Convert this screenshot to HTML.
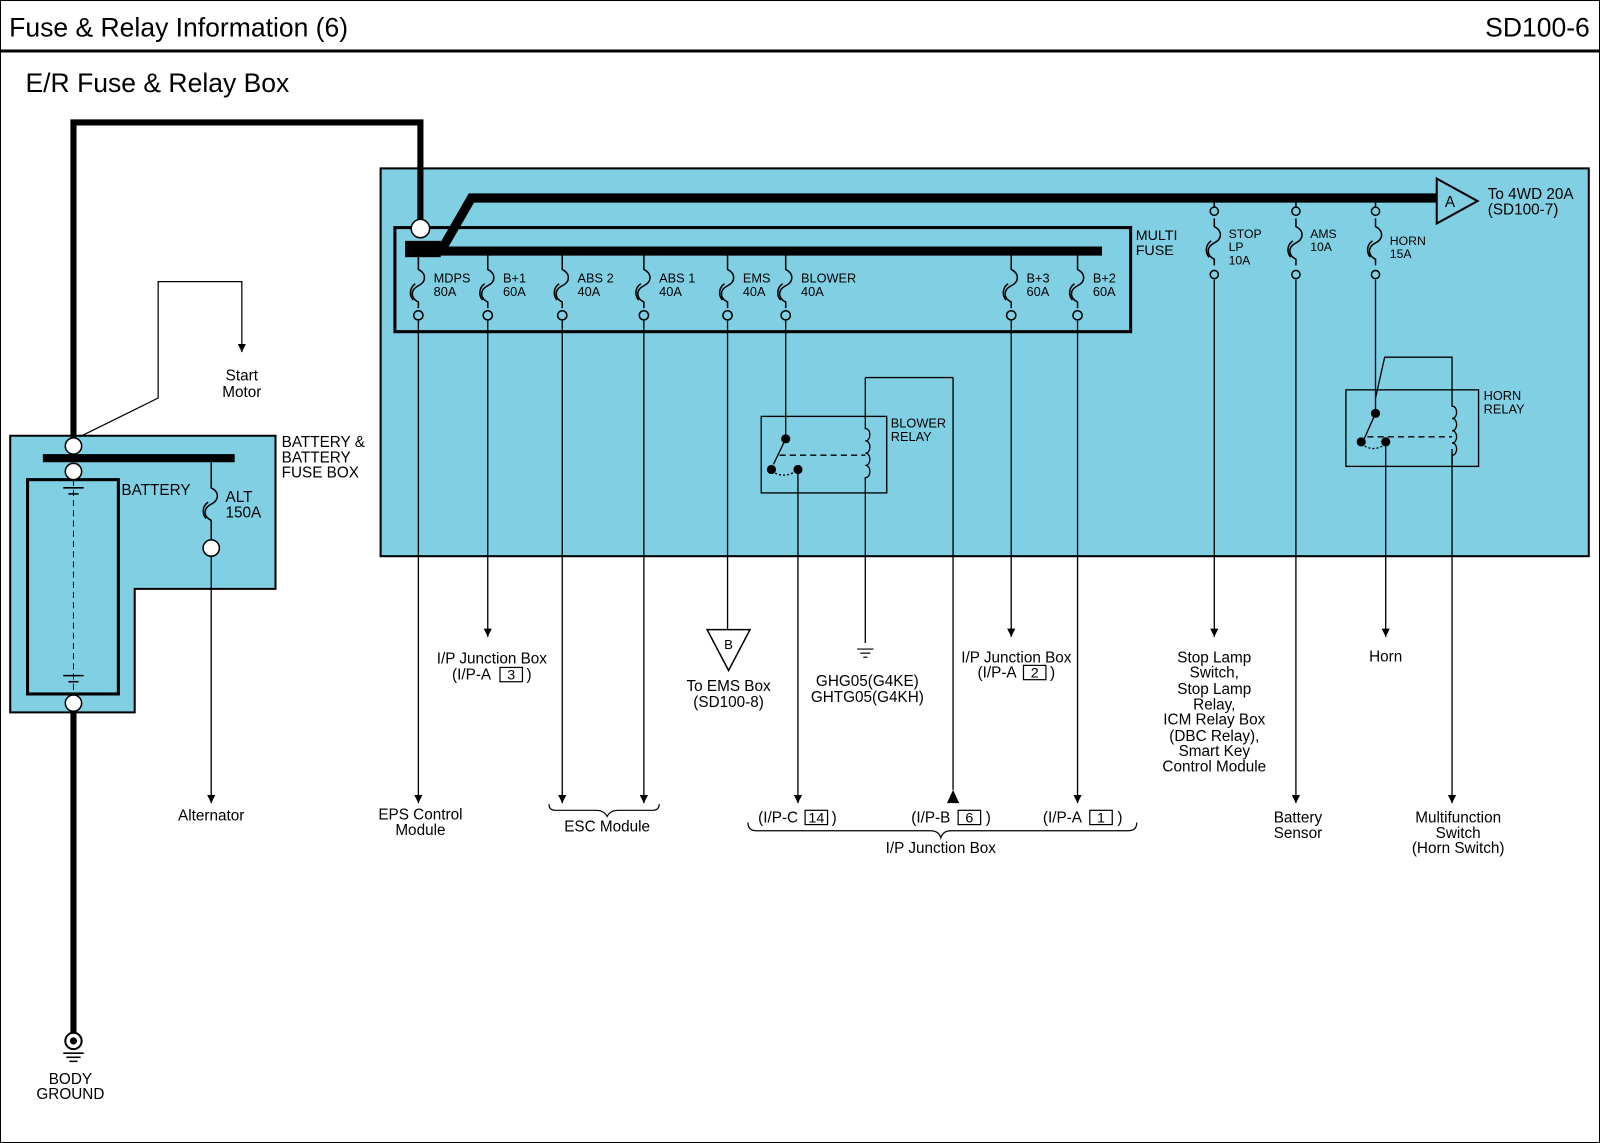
<!DOCTYPE html>
<html><head><meta charset="utf-8"><style>
html,body{margin:0;padding:0;background:#fff}
svg{display:block}
text{font-family:"Liberation Sans",Arial,sans-serif;fill:#000}
</style></head><body>
<svg width="1600" height="1143" viewBox="0 0 1568 1120" preserveAspectRatio="none" xmlns="http://www.w3.org/2000/svg">
<defs>
<marker id="ar" viewBox="0 0 10 10" refX="10" refY="5" markerWidth="8" markerHeight="8" orient="auto" markerUnits="userSpaceOnUse"><path d="M0,0 L10,5 L0,10 z" fill="#000"/></marker>
<g id="fuse"><path d="M0,0 v8 c8,4 8,12 0,16 c-8,4 -8,12 0,16 v6" fill="none" stroke="#000" stroke-width="1.5"/><path d="M-3,22 c-6,4 -6,12 -2,16" fill="none" stroke="#000" stroke-width="1.5"/></g>
</defs>
<rect x="0.5" y="0.5" width="1567" height="1119" fill="#fff" stroke="#000" stroke-width="1"/>
<line x1="0" y1="50" x2="1568" y2="50" stroke="#000" stroke-width="3"/>
<text x="9" y="36" font-size="26">Fuse &amp; Relay Information (6)</text>
<text x="1558" y="36" font-size="26" text-anchor="end">SD100-6</text>
<text x="25" y="90" font-size="26">E/R Fuse &amp; Relay Box</text>

<!-- main box -->
<rect x="373" y="165" width="1184" height="380" fill="#80cfe2" stroke="#000" stroke-width="2"/>
<rect x="387" y="223" width="721" height="102" fill="none" stroke="#000" stroke-width="3"/>
<text x="1113" y="235" font-size="14">MULTI</text>
<text x="1113" y="250" font-size="14">FUSE</text>

<!-- battery box -->
<path d="M10,427 H270 V577 H132 V698 H10 Z" fill="#80cfe2" stroke="#000" stroke-width="2"/>
<rect x="27" y="470" width="89" height="210" fill="none" stroke="#000" stroke-width="3"/>
<line x1="72" y1="470" x2="72" y2="680" stroke="#000" stroke-width="1" stroke-dasharray="6,4"/>
<line x1="62" y1="478" x2="82" y2="478" stroke="#000" stroke-width="1.5"/><line x1="67" y1="484" x2="77" y2="484" stroke="#000" stroke-width="1.5"/>
<line x1="62" y1="662" x2="82" y2="662" stroke="#000" stroke-width="1.5"/><line x1="67" y1="668" x2="77" y2="668" stroke="#000" stroke-width="1.5"/>
<text x="119" y="485" font-size="15">BATTERY</text>
<text x="276" y="438" font-size="15">BATTERY &amp;</text>
<text x="276" y="453" font-size="15">BATTERY</text>
<text x="276" y="468" font-size="15">FUSE BOX</text>
<line x1="42" y1="449" x2="230" y2="449" stroke="#000" stroke-width="8"/>

<!-- thick wire -->
<path d="M72,437 V120 H412 V224" fill="none" stroke="#000" stroke-width="6"/>
<line x1="72" y1="689" x2="72" y2="1015" stroke="#000" stroke-width="6"/>
<circle cx="72" cy="437" r="8" fill="#fff" stroke="#000" stroke-width="1.5"/>
<circle cx="72" cy="462" r="8" fill="#fff" stroke="#000" stroke-width="1.5"/>
<circle cx="72" cy="689" r="8" fill="#fff" stroke="#000" stroke-width="1.5"/>
<!-- ground -->
<circle cx="72" cy="1020" r="8" fill="#fff" stroke="#000" stroke-width="2"/><circle cx="72" cy="1020" r="3.5" fill="#000"/>
<line x1="62" y1="1032" x2="82" y2="1032" stroke="#000" stroke-width="1.5"/><line x1="65" y1="1036" x2="79" y2="1036" stroke="#000" stroke-width="1.5"/><line x1="68" y1="1040" x2="76" y2="1040" stroke="#000" stroke-width="1.5"/>
<text x="69" y="1062" font-size="15" text-anchor="middle">BODY</text>
<text x="69" y="1077" font-size="15" text-anchor="middle">GROUND</text>

<!-- start motor -->
<path d="M78,428 L155,390 V276 H237 V345" fill="none" stroke="#000" stroke-width="1.2" marker-end="url(#ar)"/>
<text x="237" y="373" font-size="15" text-anchor="middle">Start</text>
<text x="237" y="389" font-size="15" text-anchor="middle">Motor</text>

<!-- ALT -->
<line x1="207" y1="453" x2="207" y2="470" stroke="#000" stroke-width="1.5"/>
<use href="#fuse" x="207" y="470"/>
<line x1="207" y1="516" x2="207" y2="529" stroke="#000" stroke-width="1.5"/>
<circle cx="207" cy="537" r="8" fill="#fff" stroke="#000" stroke-width="1.5"/>
<line x1="207" y1="545" x2="207" y2="787" stroke="#000" stroke-width="1.3" marker-end="url(#ar)"/>
<text x="221" y="492" font-size="15">ALT</text>
<text x="221" y="507" font-size="15">150A</text>
<text x="207" y="804" font-size="15" text-anchor="middle">Alternator</text>

<!-- bus bars -->
<rect x="397" y="236" width="35" height="16" fill="#000"/>
<line x1="430" y1="246" x2="1080" y2="246" stroke="#000" stroke-width="9"/>
<path d="M432,246 L462,194 H1410" fill="none" stroke="#000" stroke-width="9"/>
<polygon points="1408,175 1448,197 1408,219" fill="#80cfe2" stroke="#000" stroke-width="2"/>
<text x="1421" y="203" font-size="15" text-anchor="middle">A</text>
<text x="1458" y="195" font-size="15">To 4WD 20A</text>
<text x="1458" y="210" font-size="15">(SD100-7)</text>
<circle cx="412" cy="224" r="9" fill="#fff" stroke="#000" stroke-width="1.5"/>

<!-- multi fuses -->
<g stroke="#000" stroke-width="1.5" fill="none">
<line x1="410" y1="250" x2="410" y2="256"/><line x1="478" y1="250" x2="478" y2="256"/><line x1="551" y1="250" x2="551" y2="256"/><line x1="631" y1="250" x2="631" y2="256"/><line x1="713" y1="250" x2="713" y2="256"/><line x1="770" y1="250" x2="770" y2="256"/><line x1="991" y1="250" x2="991" y2="256"/><line x1="1056" y1="250" x2="1056" y2="256"/>
</g>
<use href="#fuse" x="410" y="256"/><use href="#fuse" x="478" y="256"/><use href="#fuse" x="551" y="256"/><use href="#fuse" x="631" y="256"/><use href="#fuse" x="713" y="256"/><use href="#fuse" x="770" y="256"/><use href="#fuse" x="991" y="256"/><use href="#fuse" x="1056" y="256"/>
<g fill="#80cfe2" stroke="#000" stroke-width="1.5">
<circle cx="410" cy="309" r="4.5"/><circle cx="478" cy="309" r="4.5"/><circle cx="551" cy="309" r="4.5"/><circle cx="631" cy="309" r="4.5"/><circle cx="713" cy="309" r="4.5"/><circle cx="770" cy="309" r="4.5"/><circle cx="991" cy="309" r="4.5"/><circle cx="1056" cy="309" r="4.5"/>
</g>
<g font-size="12.5">
<text x="425" y="277">MDPS</text><text x="425" y="290">80A</text>
<text x="493" y="277">B+1</text><text x="493" y="290">60A</text>
<text x="566" y="277">ABS 2</text><text x="566" y="290">40A</text>
<text x="646" y="277">ABS 1</text><text x="646" y="290">40A</text>
<text x="728" y="277">EMS</text><text x="728" y="290">40A</text>
<text x="785" y="277">BLOWER</text><text x="785" y="290">40A</text>
<text x="1006" y="277">B+3</text><text x="1006" y="290">60A</text>
<text x="1071" y="277">B+2</text><text x="1071" y="290">60A</text>
</g>

<!-- top fuses -->
<g stroke="#000" stroke-width="1.5" fill="none">
<line x1="1190" y1="198" x2="1190" y2="203"/><line x1="1270" y1="198" x2="1270" y2="203"/><line x1="1348" y1="198" x2="1348" y2="203"/>
</g>
<g fill="#80cfe2" stroke="#000" stroke-width="1.5">
<circle cx="1190" cy="207" r="4"/><circle cx="1270" cy="207" r="4"/><circle cx="1348" cy="207" r="4"/>
<circle cx="1190" cy="269" r="4"/><circle cx="1270" cy="269" r="4"/><circle cx="1348" cy="269" r="4"/>
</g>
<use href="#fuse" x="1190" y="214"/><use href="#fuse" x="1270" y="214"/><use href="#fuse" x="1348" y="214"/>
<g font-size="12">
<text x="1204" y="233">STOP</text><text x="1204" y="246">LP</text><text x="1204" y="259">10A</text>
<text x="1284" y="233">AMS</text><text x="1284" y="246">10A</text>
<text x="1362" y="240">HORN</text><text x="1362" y="253">15A</text>
</g>

<!-- wires down -->
<g stroke="#000" stroke-width="1.3" fill="none" marker-end="url(#ar)">
<line x1="410" y1="314" x2="410" y2="787"/>
<line x1="478" y1="314" x2="478" y2="624"/>
<line x1="551" y1="314" x2="551" y2="787"/>
<line x1="631" y1="314" x2="631" y2="787"/>
<line x1="782" y1="460" x2="782" y2="787"/>
<line x1="991" y1="314" x2="991" y2="624"/>
<line x1="1056" y1="314" x2="1056" y2="787"/>
<line x1="934" y1="370" x2="934" y2="774" marker-end="none"/>
<line x1="1190" y1="274" x2="1190" y2="624"/>
<line x1="1270" y1="274" x2="1270" y2="787"/>
<line x1="1358" y1="433" x2="1358" y2="624"/>
<line x1="1423" y1="440" x2="1423" y2="787"/>
</g>
<polygon points="934,774 928,787 940,787" fill="#000"/>
<line x1="713" y1="314" x2="713" y2="617" stroke="#000" stroke-width="1.3"/>
<polygon points="693,617 735,617 714,657" fill="#fff" stroke="#000" stroke-width="1.5"/>
<text x="714" y="636" font-size="13" text-anchor="middle">B</text>

<!-- blower relay -->
<rect x="746" y="408" width="123" height="75" fill="none" stroke="#000" stroke-width="1.3"/>
<g stroke="#000" stroke-width="1.3" fill="none">
<line x1="770" y1="314" x2="770" y2="430"/>
<line x1="770" y1="430" x2="758" y2="455"/>
<line x1="764" y1="446" x2="848" y2="446" stroke-dasharray="6,4"/>
<path d="M756,462 Q770,470 782,460" stroke-dasharray="2,2"/>
<path d="M848,370 H934"/>
<path d="M848,370 V420 c6,0 6,12 0,12 c6,0 6,12 0,12 c6,0 6,12 0,12 c6,0 6,12 0,12 V630"/>
</g>
<circle cx="770" cy="430" r="4.5" fill="#000"/><circle cx="756" cy="460" r="4.5" fill="#000"/><circle cx="782" cy="460" r="4.5" fill="#000"/>
<text x="873" y="419" font-size="12.5">BLOWER</text><text x="873" y="432" font-size="12.5">RELAY</text>
<g stroke="#000" stroke-width="1.2"><line x1="840" y1="636" x2="856" y2="636"/><line x1="843" y1="640" x2="853" y2="640"/><line x1="846" y1="644" x2="850" y2="644"/></g>

<!-- horn relay -->
<rect x="1319" y="382" width="130" height="75" fill="none" stroke="#000" stroke-width="1.3"/>
<g stroke="#000" stroke-width="1.3" fill="none">
<line x1="1348" y1="274" x2="1348" y2="405"/>
<path d="M1348,390 L1357,350 H1423 V398 c6,0 6,12 0,12 c6,0 6,12 0,12 c6,0 6,12 0,12 c6,0 6,12 0,12 V455"/>
<line x1="1348" y1="405" x2="1336" y2="432"/>
<line x1="1340" y1="428" x2="1423" y2="428" stroke-dasharray="6,4"/>
<path d="M1334,435 Q1346,444 1358,435" stroke-dasharray="2,2"/>
</g>
<circle cx="1348" cy="405" r="4.5" fill="#000"/><circle cx="1334" cy="433" r="4.5" fill="#000"/><circle cx="1358" cy="433" r="4.5" fill="#000"/>
<text x="1454" y="392" font-size="12.5">HORN</text><text x="1454" y="405" font-size="12.5">RELAY</text>

<!-- bottom labels -->
<g font-size="15" text-anchor="middle">
<text x="482" y="650">I/P Junction Box</text>
<text x="714" y="677">To EMS Box</text><text x="714" y="693">(SD100-8)</text>
<text x="850" y="672">GHG05(G4KE)</text><text x="850" y="688">GHTG05(G4KH)</text>
<text x="996" y="649">I/P Junction Box</text>
<text x="1190" y="649">Stop Lamp</text><text x="1190" y="664">Switch,</text><text x="1190" y="680">Stop Lamp</text><text x="1190" y="695">Relay,</text><text x="1190" y="710">ICM Relay Box</text><text x="1190" y="726">(DBC Relay),</text><text x="1190" y="741">Smart Key</text><text x="1190" y="756">Control Module</text>
<text x="1358" y="648">Horn</text>
<text x="412" y="803">EPS Control</text><text x="412" y="818">Module</text>
<text x="595" y="815">ESC Module</text>
<text x="922" y="836">I/P Junction Box</text>
<text x="1272" y="806">Battery</text><text x="1272" y="821">Sensor</text>
<text x="1429" y="806">Multifunction</text><text x="1429" y="821">Switch</text><text x="1429" y="836">(Horn Switch)</text>
</g>
<g font-size="15">
<text x="443" y="666">(I/P-A</text><text x="516" y="666">)</text>
<text x="958" y="664">(I/P-A</text><text x="1029" y="664">)</text>
<text x="743" y="806">(I/P-C</text><text x="815" y="806">)</text>
<text x="893" y="806">(I/P-B</text><text x="966" y="806">)</text>
<text x="1022" y="806">(I/P-A</text><text x="1095" y="806">)</text>
</g>
<g fill="none" stroke="#000" stroke-width="1.2">
<rect x="490" y="654" width="22" height="14"/><rect x="1003" y="652" width="22" height="14"/>
<rect x="789" y="794" width="22" height="14"/><rect x="939" y="794" width="22" height="14"/><rect x="1068" y="794" width="22" height="14"/>
<path d="M538,788 q0,6 6,6 H584 q8,0 11,6 q3,-6 11,-6 H640 q6,0 6,-6"/>
<path d="M733,806 q0,8 8,8 H912 q8,0 10,7 q2,-7 10,-7 H1106 q8,0 8,-8"/>
</g>
<g font-size="14" text-anchor="middle"><text x="501" y="666">3</text><text x="1014" y="664">2</text><text x="800" y="806">14</text><text x="950" y="806">6</text><text x="1079" y="806">1</text></g>
</svg>
</body></html>
